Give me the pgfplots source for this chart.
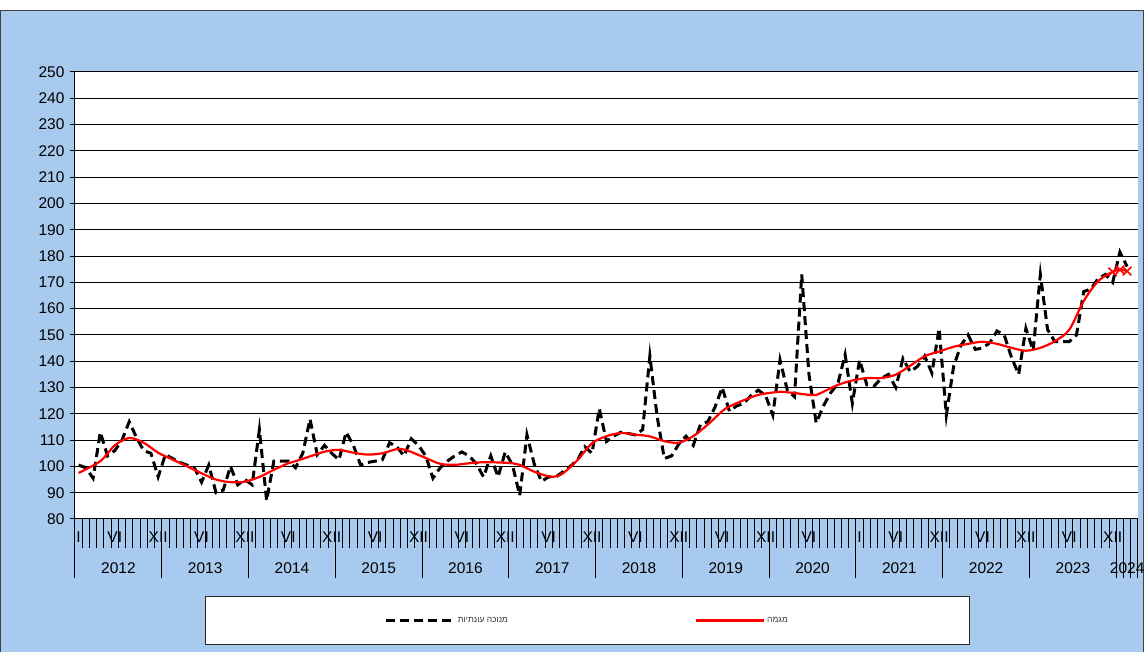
\documentclass[border=0pt]{standalone}
\usepackage{fontspec}
\setmainfont{Liberation Sans}
\newfontfamily\hebfont[Script=Hebrew]{Liberation Sans}
\TeXXeTstate=1
\usepackage{pgfplots}
\usepackage{pgfplotstable}
\pgfplotsset{compat=1.18}
\definecolor{bgblue}{RGB}{168,202,238}

\pgfplotstableread{
i v
0 100.5
1 99.5
2 95.5
3 113
4 104
5 106
6 110
7 117
8 111
9 106
10 105
11 96
12 104.5
13 103
14 101.5
15 100.5
16 99.5
17 94
18 100.5
19 90
20 91
21 100
22 93
23 95
24 93
25 114
26 87
27 102
28 102
29 102
30 99.5
31 105
32 118
33 104.5
34 108
35 105
36 102.5
37 113
38 108
39 100.5
40 101.5
41 102
42 102.5
43 109
44 107.5
45 104
46 110.5
47 108
48 104
49 95.5
50 99.5
51 102
52 104
53 105.5
54 104
55 101
56 96
57 104
58 96
59 105.5
60 100.5
61 89
62 112
63 101
64 94.3
65 96
66 96
67 98
68 100
69 102.5
70 107.5
71 105
72 122
73 109.5
74 111.5
75 113
76 112.5
77 112
78 114
79 142
80 119
81 103
82 104
83 108.5
84 111.5
85 108
86 116
87 117
88 122.5
89 130
90 121
91 123
92 124
93 127
94 129
95 127
96 119.5
97 140.5
98 129
99 126.5
100 173
101 135
102 116.5
103 123
104 128
105 131.5
106 142.5
107 124
108 140.5
109 131
110 130.5
111 133.5
112 135
113 130
114 141
115 136
116 138
117 142
118 135.5
119 152.5
120 119.5
121 138
122 146
123 150
124 144.5
125 145
126 147
127 151.5
128 150
129 141.5
130 135
131 152.5
132 144
133 173
134 152
135 147.5
136 147.5
137 147.5
138 150
139 166.5
140 167.5
141 171.5
142 173
143 170
144 181.5
145 176
}\sadata

\pgfplotstableread{
i v
0 97.5
3 102
5 108
7 110.8
9 109
11 105.2
13 102.6
15 100
17 97.4
19 95
21 94
23 94.2
25 96
27 98.7
29 101.2
30 102
32 103.8
34 105.6
36 106.3
38 105.2
40 104.5
42 105
44 106.6
45 106.4
46 105.5
48 103.2
50 101
52 100.6
54 101.2
56 101.6
58 101.5
60 101.2
61 100.6
63 98
65 96.2
66 96.2
67 97.4
69 102.4
71 108.8
73 111.5
75 112.7
77 112.1
79 111.4
81 109.6
83 109
85 111.5
87 115.9
89 121
90 122.8
92 125.2
94 127.2
96 128.1
97 128.4
99 127.9
101 127.2
102 127.2
103 128.4
105 131
107 132.7
109 133.6
111 133.6
113 134.9
115 138.3
117 141.9
119 143.7
121 145.5
123 146.6
125 147.4
127 146.6
129 145.1
131 144
133 145.1
135 147.6
137 152
139 162.9
141 170.5
143 174
144 174.8
145 174.3
}\trenddata

\pgfplotstableread{
i v
143 174
144 174.8
145 174.3
}\trendend

\begin{document}
\begin{tikzpicture}[x=1pt,y=1pt]
\useasboundingbox (0,0) rectangle (1144,652);
\fill[white] (0,0) rectangle (1144,652);
\fill[bgblue] (0,0) rectangle (1144,642);
\draw[black!75, line width=1pt] (0.5,0) -- (0.5,641.5) -- (1143.5,641.5) -- (1143.5,0);
\begin{axis}[
  at={(75pt,133pt)}, anchor=south west,
  scale only axis, width=1063pt, height=447pt,
  xmin=-0.5, xmax=146.5, ymin=80, ymax=250,
  xtick=\empty,
  ytick={80,90,...,250},
  axis x line*=bottom, axis y line*=left,
  axis line style={-, black, line width=1pt},
  ymajorgrids, grid style={black, line width=1pt},
  tick align=outside, major tick length=5pt,
  ytick style={black, line width=1pt},
  yticklabel style={font=\fontsize{15.5}{16}\selectfont, xshift=-2pt},
  /pgf/number format/assume math mode=true,
  axis background/.style={fill=white},
  clip=false,
  legend columns=2,
  legend style={at={(axis description cs:0.482,-0.227)}, anchor=center,
    draw=black!85, line width=1pt, fill=white,
    font=\fontsize{8.5}{9}\selectfont, text=black!80,
    inner xsep=179.5pt, inner ysep=19pt,
    /tikz/every even column/.append style={column sep=185pt}},
  legend image code/.code={\draw[#1] (0pt,0pt) -- (68pt,0pt);},
]
\addplot[black, line width=3pt, dash pattern=on 9pt off 5pt] table[x=i,y=v]{\sadata};
\addlegendentry{\hebfont\beginR מנוכה עונתיות\endR}
\addplot[red, line width=2.2pt, smooth] table[x=i,y=v]{\trenddata};
\addlegendentry{\hebfont\beginR מגמה\endR}
\addplot[red, only marks, mark=x, mark size=6pt, line width=1.6pt, forget plot] table[x=i,y=v]{\trendend};

\pgfplotsinvokeforeach{-0.5,0.5,...,146.5}{\draw[black, line width=1pt] (axis cs:#1,80) -- ++(0pt,-29pt);}
\pgfplotsinvokeforeach{-0.5,11.5,...,143.5}{\draw[black, line width=1pt] (axis cs:#1,80) -- ++(0pt,-59pt);}
\pgfplotsinvokeforeach{144.5,145.5,146.5}{\draw[black, line width=1pt] (axis cs:#1,80) -- ++(0pt,-59pt);}

\pgfplotsinvokeforeach{5,17,29,41,53,65,77,89,101,113,125,137}{\node[font=\fontsize{15.5}{16}\selectfont] at (axis cs:#1,80) [yshift=-18pt] {VI};}
\pgfplotsinvokeforeach{11,23,35,47,59,71,83,95,119,131,143}{\node[font=\fontsize{15.5}{16}\selectfont] at (axis cs:#1,80) [yshift=-18pt] {XII};}
\pgfplotsinvokeforeach{0,108}{\node[font=\fontsize{15.5}{16}\selectfont] at (axis cs:#1,80) [yshift=-18pt] {I};}

\node[font=\fontsize{15.5}{16}\selectfont] at (axis cs:5.5,80) [yshift=-49pt] {2012};
\node[font=\fontsize{15.5}{16}\selectfont] at (axis cs:17.5,80) [yshift=-49pt] {2013};
\node[font=\fontsize{15.5}{16}\selectfont] at (axis cs:29.5,80) [yshift=-49pt] {2014};
\node[font=\fontsize{15.5}{16}\selectfont] at (axis cs:41.5,80) [yshift=-49pt] {2015};
\node[font=\fontsize{15.5}{16}\selectfont] at (axis cs:53.5,80) [yshift=-49pt] {2016};
\node[font=\fontsize{15.5}{16}\selectfont] at (axis cs:65.5,80) [yshift=-49pt] {2017};
\node[font=\fontsize{15.5}{16}\selectfont] at (axis cs:77.5,80) [yshift=-49pt] {2018};
\node[font=\fontsize{15.5}{16}\selectfont] at (axis cs:89.5,80) [yshift=-49pt] {2019};
\node[font=\fontsize{15.5}{16}\selectfont] at (axis cs:101.5,80) [yshift=-49pt] {2020};
\node[font=\fontsize{15.5}{16}\selectfont] at (axis cs:113.5,80) [yshift=-49pt] {2021};
\node[font=\fontsize{15.5}{16}\selectfont] at (axis cs:125.5,80) [yshift=-49pt] {2022};
\node[font=\fontsize{15.5}{16}\selectfont] at (axis cs:137.5,80) [yshift=-49pt] {2023};
\node[font=\fontsize{15.5}{16}\selectfont] at (axis cs:145,80) [yshift=-49pt] {2024};
\end{axis}
\end{tikzpicture}
\end{document}
